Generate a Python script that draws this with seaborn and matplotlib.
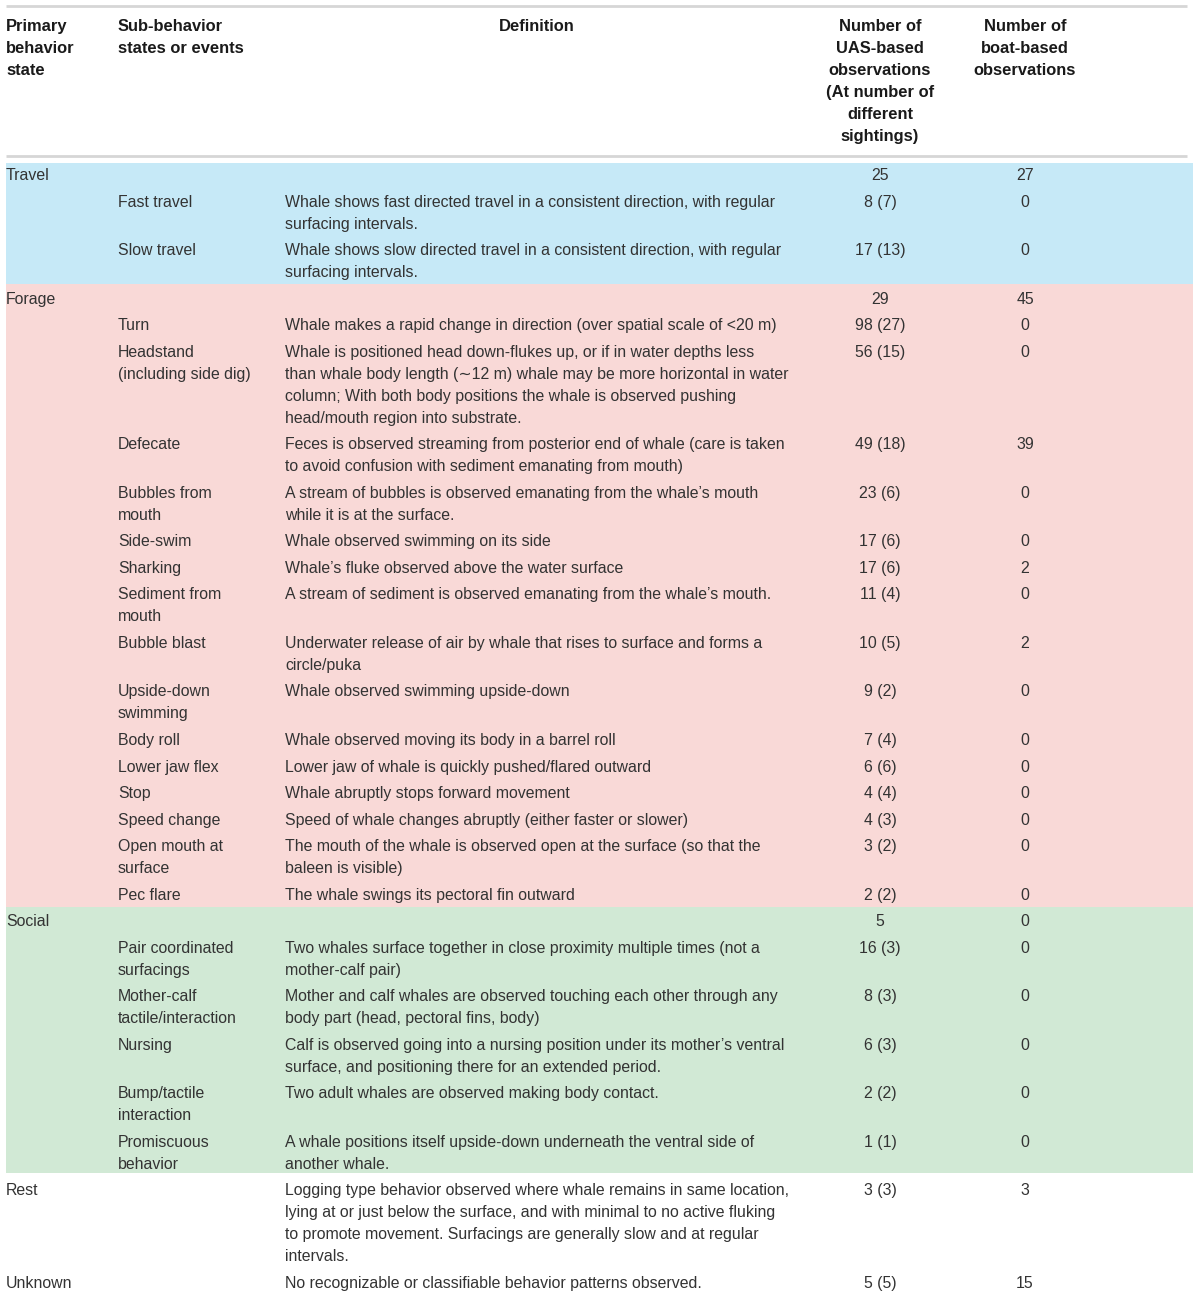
import matplotlib
matplotlib.use("Agg")
import matplotlib.pyplot as plt
import seaborn as sns

# ---------------- data ----------------
primary = ["Travel", "", "", "Forage", "", "", "", "", "", "", "", "", "", "", "", "", "", "", "",
           "Social", "", "", "", "", "", "Rest", "Unknown"]
sub_behavior = ["", "Fast travel", "Slow travel", "", "Turn", "Headstand\n(including side dig)", "Defecate",
                "Bubbles from\nmouth", "Side-swim", "Sharking", "Sediment from\nmouth", "Bubble blast",
                "Upside-down\nswimming", "Body roll", "Lower jaw flex", "Stop", "Speed change",
                "Open mouth at\nsurface", "Pec flare", "", "Pair coordinated\nsurfacings",
                "Mother-calf\ntactile/interaction", "Nursing", "Bump/tactile\ninteraction",
                "Promiscuous\nbehavior", "", ""]
definition = [
    "",
    "Whale shows fast directed travel in a consistent direction, with regular\nsurfacing intervals.",
    "Whale shows slow directed travel in a consistent direction, with regular\nsurfacing intervals.",
    "",
    "Whale makes a rapid change in direction (over spatial scale of <20 m)",
    "Whale is positioned head down-flukes up, or if in water depths less\nthan whale body length (\u223c12 m) whale may be more horizontal in water\ncolumn; With both body positions the whale is observed pushing\nhead/mouth region into substrate.",
    "Feces is observed streaming from posterior end of whale (care is taken\nto avoid confusion with sediment emanating from mouth)",
    "A stream of bubbles is observed emanating from the whale\u2019s mouth\nwhile it is at the surface.",
    "Whale observed swimming on its side",
    "Whale\u2019s fluke observed above the water surface",
    "A stream of sediment is observed emanating from the whale\u2019s mouth.",
    "Underwater release of air by whale that rises to surface and forms a\ncircle/puka",
    "Whale observed swimming upside-down",
    "Whale observed moving its body in a barrel roll",
    "Lower jaw of whale is quickly pushed/flared outward",
    "Whale abruptly stops forward movement",
    "Speed of whale changes abruptly (either faster or slower)",
    "The mouth of the whale is observed open at the surface (so that the\nbaleen is visible)",
    "The whale swings its pectoral fin outward",
    "",
    "Two whales surface together in close proximity multiple times (not a\nmother-calf pair)",
    "Mother and calf whales are observed touching each other through any\nbody part (head, pectoral fins, body)",
    "Calf is observed going into a nursing position under its mother\u2019s ventral\nsurface, and positioning there for an extended period.",
    "Two adult whales are observed making body contact.",
    "A whale positions itself upside-down underneath the ventral side of\nanother whale.",
    "Logging type behavior observed where whale remains in same location,\nlying at or just below the surface, and with minimal to no active fluking\nto promote movement. Surfacings are generally slow and at regular\nintervals.",
    "No recognizable or classifiable behavior patterns observed.",
]
uas_obs = [25, 8, 17, 29, 98, 56, 49, 23, 17, 17, 11, 10, 9, 7, 6, 4, 4, 3, 2, 5, 16, 8, 6, 2, 1, 3, 5]
uas_sightings = [None, 7, 13, None, 27, 15, 18, 6, 6, 6, 4, 5, 2, 4, 6, 4, 3, 2, 2, None, 3, 3, 3, 2, 1, 3, 5]
boat_obs = [27, 0, 0, 45, 0, 0, 39, 0, 0, 2, 0, 2, 0, 0, 0, 0, 0, 0, 0, 0, 0, 0, 0, 0, 0, 3, 15]
group = ["Travel"] * 3 + ["Forage"] * 16 + ["Social"] * 6 + ["Rest", "Unknown"]

headers = ["Primary\nbehavior\nstate", "Sub-behavior\nstates or events", "Definition",
           "Number of\nUAS-based\nobservations\n(At number of\ndifferent\nsightings)",
           "Number of\nboat-based\nobservations"]
group_colors = {"Travel": "#C6E9F7", "Forage": "#F9D9D7", "Social": "#D1E9D5"}

# ---------------- style ----------------
sns.set_theme(style="white")
plt.rcParams["font.family"] = ["Liberation Sans", "DejaVu Sans"]

W, H = 1200, 1298
fig = plt.figure(figsize=(W / 100, H / 100), dpi=100)
ax = fig.add_axes([0, 0, 1, 1])
ax.set_xlim(0, W)
ax.set_ylim(H, 0)
ax.axis("off")

LINE = 22.0
GAP = 4.54
FS = 11.45
FS_HEAD = 11.9
YOFF = 1.5
body_color = "#333333"
head_color = "#1a1a1a"

col_x = [6, 118, 285, 880, 1025]
head_x = [6, 118, 537, 880, 1025]
head_ha = ["left", "left", "center", "center", "center"]


def draw_lines(x, y0, s, ha, color, weight="normal", fs=FS):
    for i, line in enumerate(s.split("\n")):
        if line:
            ax.text(x, y0 + YOFF + i * LINE, line, ha=ha, va="center", fontsize=fs,
                    color=color, fontweight=weight)


# header
for h, x, ha in zip(headers, head_x, head_ha):
    draw_lines(x, 25, h, ha, head_color, weight="bold", fs=FS_HEAD)
ax.plot([6, 1187], [6, 6], color="#d6d6d6", lw=2, solid_capstyle="butt")
ax.plot([6, 1187], [156, 156], color="#d6d6d6", lw=2, solid_capstyle="butt")

# row layout
n = len(primary)
nlines = [max(s.count("\n") + 1 for s in (primary[i], sub_behavior[i], definition[i])) for i in range(n)]
ys = []
y = 174.0
for i in range(n):
    ys.append(y)
    y += GAP + LINE * nlines[i]

# coloured bands (contiguous between adjacent groups)
blocks = []
i = 0
while i < n:
    j = i
    while j + 1 < n and group[j + 1] == group[i]:
        j += 1
    blocks.append((group[i], i, j))
    i = j + 1

for k, (g, i, j) in enumerate(blocks):
    if g not in group_colors:
        continue
    last_line = ys[j] + LINE * (nlines[j] - 1)
    if k > 0 and blocks[k - 1][0] in group_colors:
        pj = blocks[k - 1][2]
        plast = ys[pj] + LINE * (nlines[pj] - 1)
        top = ((plast + 11) + (ys[i] - 11)) / 2
    else:
        top = ys[i] - 11
    if k + 1 < len(blocks) and blocks[k + 1][0] in group_colors:
        ni = blocks[k + 1][1]
        bottom = ((last_line + 11) + (ys[ni] - 11)) / 2
    else:
        bottom = last_line + 10
    ax.axhspan(top, bottom, xmin=6 / W, xmax=1193 / W, color=group_colors[g], lw=0, zorder=0)

# cells
for i in range(n):
    yy = ys[i]
    draw_lines(col_x[0], yy, primary[i], "left", body_color)
    draw_lines(col_x[1], yy, sub_behavior[i], "left", body_color)
    draw_lines(col_x[2], yy, definition[i], "left", body_color)
    u = f"{uas_obs[i]}" if uas_sightings[i] is None else f"{uas_obs[i]} ({uas_sightings[i]})"
    draw_lines(col_x[3], yy, u, "center", body_color)
    draw_lines(col_x[4], yy, f"{boat_obs[i]}", "center", body_color)

fig.savefig("out.png", dpi=100, facecolor="white")
